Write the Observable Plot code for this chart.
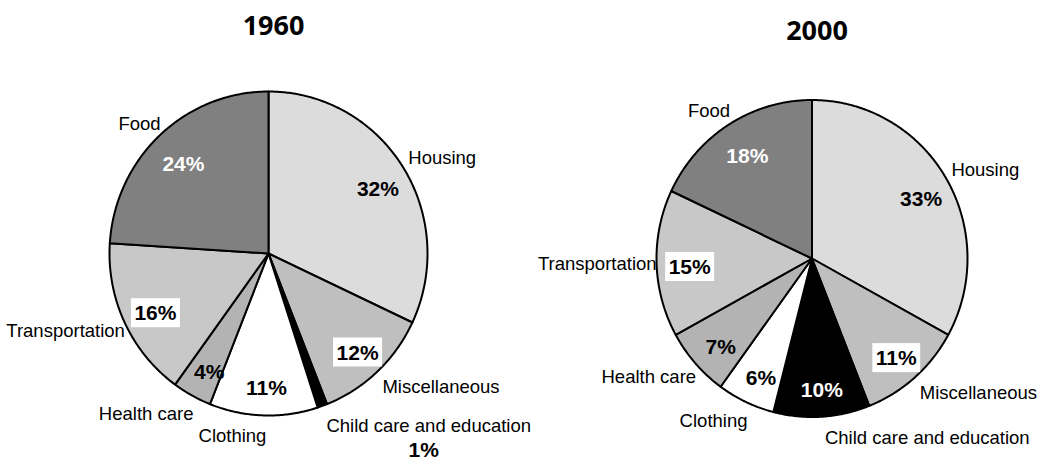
<!DOCTYPE html>
<html><head><meta charset="utf-8">
<script src="https://cdn.jsdelivr.net/npm/d3@7"></script>
<script src="https://cdn.jsdelivr.net/npm/@observablehq/plot@0.6"></script>
<style>html,body{margin:0;padding:0;background:#fff;overflow:hidden}</style>
</head><body><div id="chart"></div>
<script>
// ---- data ----
const categories = ["Housing", "Miscellaneous", "Child care and education", "Clothing", "Health care", "Transportation", "Food"];
const years = ["1960", "2000"];
const shares1960 = [32, 12, 1, 11, 4, 16, 24];
const shares2000 = [33, 11, 10, 6, 7, 15, 18];

// ---- styles / layout ----
const sliceColors = ["#dcdcdc", "#bfbfbf", "#000000", "#ffffff", "#b3b3b3", "#c8c8c8", "#808080"];
const boxedCategories = ["Miscellaneous", "Transportation"];
const W = 1043, H = 464;
const layout = [
  {cx: 268, cy: 253, rx: 159, ry: 162},
  {cx: 811.5, cy: 258, rx: 155.5, ry: 158.5}
];
const seriesByYear = [shares1960, shares2000];
const labelFont = "'Liberation Sans', Arial, sans-serif";
const catSize = 18.5, pctSize = 21;

const ctx = document.createElement("canvas").getContext("2d");
function textWidth(s, font) { ctx.font = font; return ctx.measureText(s).width; }

const wedgePts = [], catLabels = [], pctLabels = [], boxes = [], titles = [];
years.forEach((year, i) => {
  const {cx, cy, rx, ry} = layout[i];
  const values = seriesByYear[i];
  titles.push({text: year, x: cx + 5, y: cy - 227});
  const arcs = d3.pie().sort(null).value(d => d)(values);
  arcs.forEach((a, j) => {
    const key = year + "-" + j;
    const color = sliceColors[j];
    wedgePts.push({key, color, x: cx, y: cy});
    const n = Math.max(2, Math.ceil((a.endAngle - a.startAngle) / 0.01));
    for (let k = 0; k <= n; k++) {
      const t = a.startAngle + (a.endAngle - a.startAngle) * k / n;
      wedgePts.push({key, color, x: cx + rx * Math.sin(t), y: cy - ry * Math.cos(t)});
    }
    wedgePts.push({key, color, x: cx, y: cy});

    const m = (a.startAngle + a.endAngle) / 2;
    const s = Math.sin(m), c = Math.cos(m);
    // category label just outside the rim
    const px = cx + (rx + 3) * s + 3;
    const py = cy - (ry + 3) * c - (c < 0 ? 18 : 13) * c;
    const side = s > 0 ? "start" : "end";
    const cw = textWidth(categories[j], catSize + "px " + labelFont);
    catLabels.push({text: categories[j], x: px, y: py, side});
    // percentage label
    const ptxt = values[j] + "%";
    const pw = textWidth(ptxt, "bold " + pctSize + "px " + labelFont);
    const lum = d3.hsl(color).l;
    let lx, ly;
    if (values[j] < 3) {
      lx = side === "start" ? px + cw / 2 - 5 : px - cw / 2;
      ly = py + 25;
    } else {
      lx = cx + 0.8 * rx * s + 2;
      ly = cy - 0.8 * ry * c + 5;
    }
    const fill = (values[j] >= 3 && lum < 0.55) ? "white" : "black";
    pctLabels.push({text: ptxt, x: lx, y: ly, fill});
    if (boxedCategories.includes(categories[j])) {
      boxes.push({x1: lx - pw / 2 - 3, x2: lx + pw / 2 + 4, y1: ly - 15, y2: ly + 14});
    }
  });
});

const chart = Plot.plot({
  width: W, height: H,
  margin: 0,
  x: {domain: [0, W], range: [0, W], axis: null},
  y: {domain: [0, H], range: [0, H], axis: null},
  color: {type: "identity"},
  marks: [
    Plot.line(wedgePts, {x: "x", y: "y", z: "key", fill: "color", stroke: "black", strokeWidth: 2, curve: "linear"}),
    Plot.rect(boxes, {x1: "x1", x2: "x2", y1: "y1", y2: "y2", fill: "white"}),
    Plot.text(pctLabels, {x: "x", y: "y", text: "text", fill: "fill", fontSize: pctSize, fontWeight: "bold", fontFamily: labelFont, lineAnchor: "middle"}),
    Plot.text(catLabels.filter(d => d.side === "start"), {x: "x", y: "y", text: "text", textAnchor: "start", fontSize: catSize, fontFamily: labelFont, fill: "black", lineAnchor: "middle"}),
    Plot.text(catLabels.filter(d => d.side === "end"), {x: "x", y: "y", text: "text", textAnchor: "end", fontSize: catSize, fontFamily: labelFont, fill: "black", lineAnchor: "middle"}),
    Plot.text(titles, {x: "x", y: "y", text: "text", fontSize: 27, fontWeight: "bold", fontFamily: "'Open Sans', sans-serif", lineAnchor: "middle", fill: "black"})
  ]
});
document.getElementById("chart").appendChild(chart);
</script>
</body></html>
